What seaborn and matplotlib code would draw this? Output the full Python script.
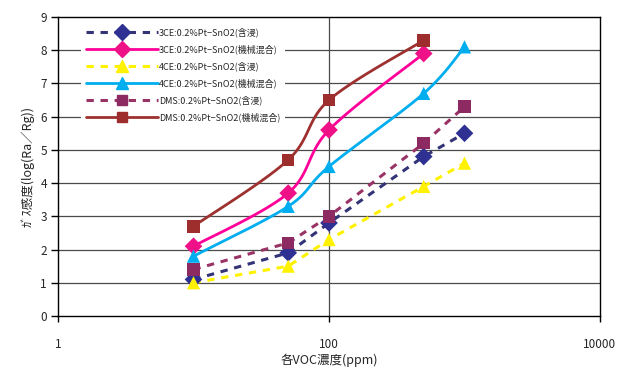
import numpy as np
import pandas as pd
import matplotlib
matplotlib.use("Agg")
import matplotlib.pyplot as plt
import seaborn as sns
from matplotlib.lines import Line2D
from matplotlib.ticker import FixedLocator, FixedFormatter, NullLocator

sns.set_theme(style="white")
plt.rcParams['font.family'] = ['Noto Sans CJK JP', 'DejaVu Sans']

# VOC concentrations (ppm)
conc = [10, 50, 100, 500, 1000]
conc_short = [10, 50, 100, 500]

# gas sensitivity log(Ra/Rg)
ce3_imp = [1.1, 1.9, 2.8, 4.8, 5.5]
ce3_mix = [2.1, 3.7, 5.6, 7.9]
ce4_imp = [1.0, 1.5, 2.3, 3.9, 4.6]
ce4_mix = [1.8, 3.3, 4.5, 6.7, 8.1]
dms_imp = [1.4, 2.2, 3.0, 5.2, 6.3]
dms_mix = [2.7, 4.7, 6.5, 8.3]

labels = [
    "3CE:0.2%Pt−SnO2(含浸)",
    "3CE:0.2%Pt−SnO2(機械混合)",
    "4CE:0.2%Pt−SnO2(含浸)",
    "4CE:0.2%Pt−SnO2(機械混合)",
    "DMS:0.2%Pt−SnO2(含浸)",
    "DMS:0.2%Pt−SnO2(機械混合)",
]
y_ticks = list(range(0, 10))
x_ticks = [1, 100, 10000]
x_tick_labels = ["1", "100", "10000"]

# label, x, y, line colour, marker colour, marker, marker size, dashed
series = [
    (labels[0], conc, ce3_imp, "#333377", "#2E3192", "D", 9.0, True),
    (labels[1], conc_short, ce3_mix, "#FF0099", "#EE1188", "D", 9.0, False),
    (labels[2], conc, ce4_imp, "#FFF200", "#FFF200", "^", 9.5, True),
    (labels[3], conc, ce4_mix, "#00AEEF", "#00AEEF", "^", 9.5, False),
    (labels[4], conc, dms_imp, "#993366", "#8E2A62", "s", 9.0, True),
    (labels[5], conc_short, dms_mix, "#9E3030", "#9E2E2E", "s", 9.0, False),
]


def smooth_curve(xs, ys, n=40):
    """Uniform Catmull-Rom curve through the points, built in log10(x) space."""
    lx = np.log10(np.asarray(xs, dtype=float))
    ly = np.asarray(ys, dtype=float)
    pts = np.column_stack([lx, ly])
    pts = np.vstack([pts[0], pts, pts[-1]])
    out = []
    for i in range(1, len(pts) - 2):
        p0, p1, p2, p3 = pts[i - 1], pts[i], pts[i + 1], pts[i + 2]
        c1 = p1 + (p2 - p0) / 6.0
        c2 = p2 - (p3 - p1) / 6.0
        t = np.linspace(0, 1, n)[:, None]
        seg = ((1 - t) ** 3) * p1 + 3 * ((1 - t) ** 2) * t * c1 + 3 * (1 - t) * t ** 2 * c2 + t ** 3 * p2
        out.append(seg if i == 1 else seg[1:])
    out = np.vstack(out)
    return 10 ** out[:, 0], out[:, 1]


fig = plt.figure(figsize=(6.28, 3.69), dpi=100)
ax = fig.add_axes([58 / 628, 1 - 316 / 369, (600 - 58) / 628, (316 - 17) / 369])
ax.set_xscale("log")
ax.set_xlim(1, 10000)
ax.set_ylim(0, 9)

# grid
for yv in range(1, 9):
    ax.axhline(yv, color="#4a4a4a", lw=0.9, zorder=0)
ax.axvline(100, color="#4a4a4a", lw=0.9, zorder=0)

handles = []
for label, xs, ys, lc, mc, mk, ms, dashed in series:
    if dashed:
        cx, cy = np.asarray(xs, float), np.asarray(ys, float)
    else:
        cx, cy = smooth_curve(xs, ys)
    df = pd.DataFrame({"x": cx, "y": cy})
    sns.lineplot(data=df, x="x", y="y", sort=False, estimator=None, ax=ax,
                 color=lc, lw=2.2 if dashed else 2.0,
                 linestyle=(0, (2.4, 2.2)) if dashed else "-", zorder=2)
    pts = pd.DataFrame({"x": xs, "y": ys})
    sns.scatterplot(data=pts, x="x", y="y", ax=ax, marker=mk, s=ms ** 2,
                    color=mc, edgecolor="none", linewidth=0, zorder=3)
    handles.append(Line2D([], [], color=lc, lw=2.2 if dashed else 2.0,
                          linestyle=(0, (2.4, 2.2)) if dashed else "-",
                          marker=mk, markersize=ms * 0.85, markerfacecolor=mc,
                          markeredgecolor=mc))

leg = ax.legend(handles=handles, labels=labels, loc="upper left",
                bbox_to_anchor=(0.035, 0.995), fontsize=6.5, frameon=True,
                handlelength=8.0, handletextpad=0.1, labelspacing=0.8,
                borderpad=0.5, facecolor="white", edgecolor="none",
                framealpha=1.0, fancybox=False)
leg.set_zorder(5)

ax.yaxis.set_major_locator(FixedLocator(y_ticks))
ax.xaxis.set_major_locator(FixedLocator(x_ticks))
ax.xaxis.set_major_formatter(FixedFormatter(x_tick_labels))
ax.xaxis.set_minor_locator(NullLocator())
ax.tick_params(axis="y", direction="out", length=5, width=1, color="black",
               labelsize=8.5, pad=3, left=True)
ax.tick_params(axis="x", direction="out", length=4, width=1, color="black",
               labelsize=8.5, pad=12, bottom=True)
for sp in ax.spines.values():
    sp.set_visible(True)
    sp.set_color("black")
    sp.set_linewidth(1.0)

ax.set_xlabel("各VOC濃度(ppm)", fontsize=9, labelpad=2)
ax.set_ylabel("ｶﾞｽ感度(log(Ra／Rg))", fontsize=9, labelpad=4)

fig.savefig("out.png", dpi=100, facecolor="white")
